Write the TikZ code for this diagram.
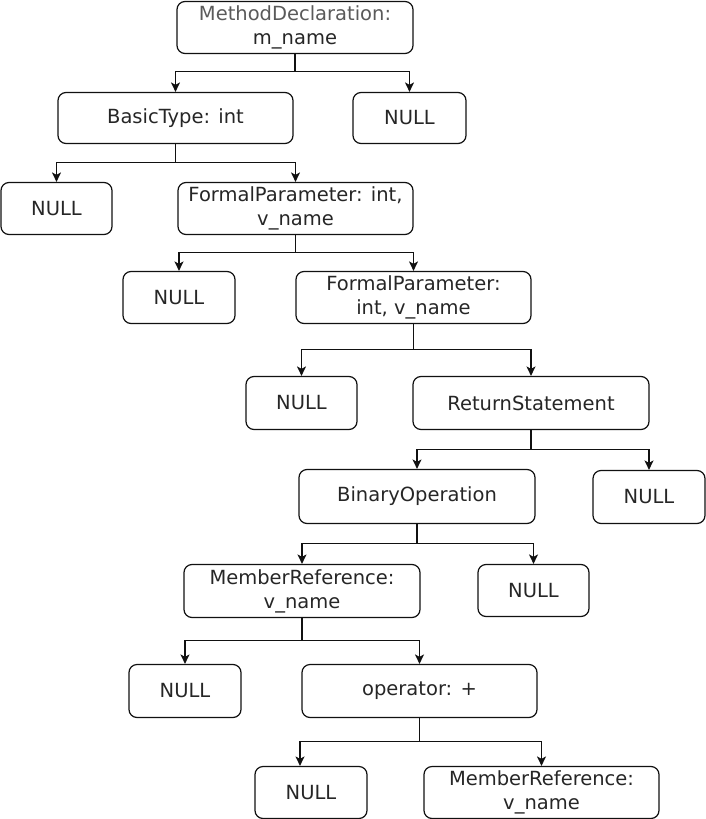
\documentclass[tikz,border=0pt]{standalone}
\usepackage{fontspec}
\setmainfont{DejaVu Sans}
\usetikzlibrary{arrows.meta}
\definecolor{txt}{HTML}{262626}
\definecolor{txtlight}{HTML}{5A5A5A}
\definecolor{edge}{HTML}{111111}
\begin{document}
\begin{tikzpicture}[x=1pt,y=-1pt,
  box/.style={draw=edge, line width=1.2pt, rounded corners=8pt, minimum height=52pt,
    inner sep=0pt, align=center, text=txt, font=\fontsize{19.5}{24}\selectfont},
  link/.style={draw=edge, line width=1.2pt, -{Stealth[length=9.5pt,width=9pt,inset=2.5pt]}}]
\useasboundingbox (0,0) rectangle (706,819);

\node[box, minimum width=236pt] (A) at (295,27.5) {{\color{txtlight}MethodDeclaration:}\\m\_name};
\node[box, minimum width=235pt, minimum height=51pt] (B) at (175.5,118) {BasicType: int};
\node[box, minimum width=113pt, minimum height=51pt] (C) at (409.5,118) {NULL};
\node[box, minimum width=111pt] (D) at (56.5,208.5) {NULL};
\node[box, minimum width=235pt] (E) at (295.5,208.5) {FormalParameter: int,\\v\_name};
\node[box, minimum width=112pt] (F) at (179,297.5) {NULL};
\node[box, minimum width=235pt] (G) at (413.5,297.5) {FormalParameter:\\int, v\_name};
\node[box, minimum width=111pt, minimum height=53pt] (H) at (301.5,403) {NULL};
\node[box, minimum width=236pt, minimum height=53pt] (I) at (531,403) {ReturnStatement};
\node[box, minimum width=236pt, minimum height=54pt] (J) at (417,496.5) {BinaryOperation};
\node[box, minimum width=112pt, minimum height=53pt] (K) at (649,497) {NULL};
\node[box, minimum width=236pt, minimum height=53pt] (L) at (302,591) {MemberReference:\\v\_name};
\node[box, minimum width=111pt] (M) at (533.5,590.5) {NULL};
\node[box, minimum width=112pt, minimum height=53pt] (N) at (185,691) {NULL};
\node[box, minimum width=235pt, minimum height=53pt] (O) at (419.5,691) {operator: +};
\node[box, minimum width=112pt] (P) at (311,792.5) {NULL};
\node[box, minimum width=235pt] (Q) at (541.5,792.5) {MemberReference:\\v\_name};

\draw[link] (A.south) -- ++(0,17.5) -| (B.north);
\draw[link] (A.south) -- ++(0,17.5) -| (C.north);
\draw[link] (B.south) -- ++(0,18.5) -| (D.north);
\draw[link] (B.south) -- ++(0,18.5) -| (E.north);
\draw[link] (E.south) -- ++(0,17.5) -| (F.north);
\draw[link] (E.south) -- ++(0,17.5) -| (G.north);
\draw[link] (G.south) -- ++(0,25.5) -| (H.north);
\draw[link] (G.south) -- ++(0,25.5) -| (I.north);
\draw[link] (I.south) -- ++(0,19.5) -| (J.north);
\draw[link] (I.south) -- ++(0,19.5) -| (K.north);
\draw[link] (J.south) -- ++(0,19.5) -| (L.north);
\draw[link] (J.south) -- ++(0,19.5) -| (M.north);
\draw[link] (L.south) -- ++(0,22.5) -| (N.north);
\draw[link] (L.south) -- ++(0,22.5) -| (O.north);
\draw[link] (O.south) -- ++(0,23.5) -| ([xshift=-11pt]P.north);
\draw[link] (O.south) -- ++(0,23.5) -| (Q.north);
\end{tikzpicture}
\end{document}
